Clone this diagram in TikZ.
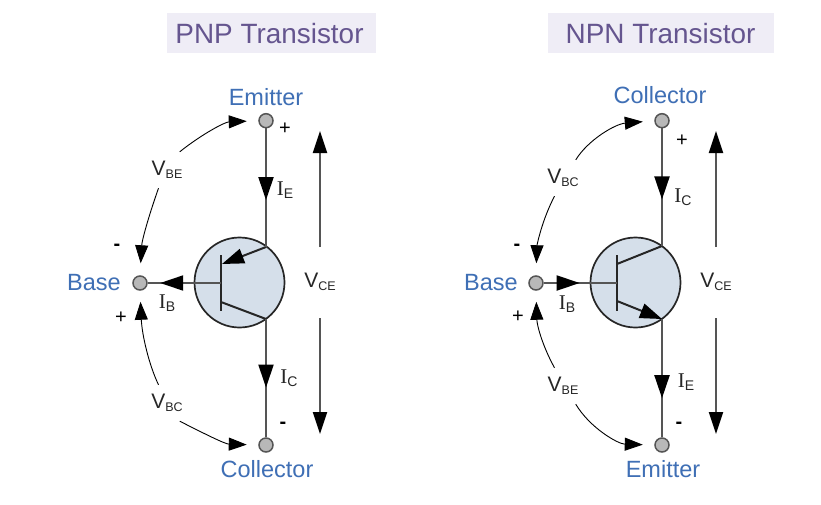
\documentclass[tikz,border=0pt]{standalone}
\usepackage{fontspec}
\setmainfont{Liberation Sans}
\newfontfamily\serifI{Liberation Serif}
\usetikzlibrary{arrows.meta,decorations.markings}
\definecolor{wirecol}{HTML}{555555}
\definecolor{dotfill}{HTML}{B8B8B8}
\definecolor{bodyfill}{HTML}{D5DFEA}
\definecolor{labelblue}{HTML}{3F6FB5}
\definecolor{titlebg}{HTML}{EFEDF6}
\definecolor{titlefg}{HTML}{65558F}
\newcommand{\volt}[1]{V\raisebox{-2.5pt}{\fontsize{12.5}{12.5}\selectfont #1}}
\newcommand{\curr}[1]{{\serifI\fontsize{21}{21}\selectfont I}\raisebox{-2.5pt}{\fontsize{14}{14}\selectfont #1}}
\tikzset{
  termdot/.style={circle,draw=wirecol,fill=dotfill,line width=1.5pt,minimum size=14pt,inner sep=0pt},
  termlabel/.style={text=labelblue,font=\fontsize{23.5}{24}\selectfont,inner sep=0pt},
  titlebox/.style={fill=titlebg,text=titlefg,font=\fontsize{27.9}{28}\selectfont,inner sep=0pt,minimum height=40pt,text height=20pt,text depth=0pt},
  valuelabel/.style={font=\fontsize{21}{21}\selectfont,text=black!85,inner sep=0pt},
  vlabel/.style={valuelabel,minimum width=30pt,minimum height=36pt},
  signlabel/.style={font=\fontsize{20}{20}\selectfont,inner sep=0pt},
  minuslabel/.style={font=\fontsize{20}{20}\bfseries\selectfont,inner sep=0pt},
  tbody/.style={circle,draw=black!85,fill=bodyfill,line width=1.7pt,minimum size=90pt,inner sep=0pt},
  wire/.style={draw=wirecol,line width=2pt},
  inner line/.style={draw=black!85,line width=2pt},
  midtip/.style={postaction=decorate,decoration={markings,mark=at position #1 with {\arrow[black]{Triangle[length=23pt,width=15pt]}}}},
  endtip/.style={-{Triangle[length=22pt,width=14pt,black]},wire},
  emtip/.style={-{Triangle[length=22pt,width=15pt,black]},inner line},
  arcv/.style={-{Triangle[length=18pt,width=13pt]},draw=black,line width=0.9pt},
}
\begin{document}
\begin{tikzpicture}[x=1pt,y=-1pt]
\useasboundingbox[fill=white] (0,0) rectangle (821,504);
% ---------- PNP
\node[titlebox,minimum width=209pt] (t1) at (271.5,33) {\hspace*{-4pt}PNP Transistor};
\node[tbody] (q1) at (239.5,282.5) {};
\node[termdot] (e1) at (266,120.7) {};
\node[termdot] (c1) at (266,445) {};
\node[termdot] (b1) at (140,283) {};
\node[termlabel] (le1) at (266,97) {Emitter};
\node[termlabel] (lc1) at (267,469) {Collector};
\node[termlabel] (lb1) at (94,283) {Base};
\coordinate (bt1) at (221,255);
\coordinate (bb1) at (221,311);
\coordinate (bm1) at (221,283);
\coordinate (je1) at (266,247);
\coordinate (ie1) at (222,264);
\coordinate (jc1) at (266,319);
\coordinate (ic1) at (221,302);
\draw[inner line] (bt1) -- (bb1);
\draw[inner line] (ic1) -- (jc1);
\draw[emtip] (je1) -- (ie1);
\draw[wire,midtip=0.604] (e1) -- (je1);
\draw[wire,midtip=0.58] (jc1) -- (c1);
\draw[wire,midtip=0.83] (bm1) -- (b1);
\node[valuelabel] (ie1l) at (285,190) {\curr{E}};
\node[valuelabel] (ic1l) at (289,378) {\curr{C}};
\node[valuelabel] (ib1l) at (167,303) {\curr{B}};
\node[valuelabel] (vce1) at (320,282) {\volt{CE}};
\node[vlabel] (vbe1) at (167,170) {\volt{BE}};
\node[vlabel] (vbc1) at (167,403) {\volt{BC}};
\coordinate (vu1) at (320,247);
\coordinate (vut1) at (320,131);
\coordinate (vd1) at (320,318);
\coordinate (vdt1) at (320,434);
\draw[endtip] (vu1) -- (vut1);
\draw[endtip] (vd1) -- (vdt1);
\draw[arcv,shorten >=11.5pt] (vbe1.55) .. controls (202,134) and (225,122) .. (e1.west);
\draw[arcv,shorten >=12pt] (vbe1.245) .. controls (149,215) and (142,240) .. (b1.north);
\draw[arcv,shorten >=11pt] (vbc1.115) .. controls (149,365) and (142,335) .. (b1.south);
\draw[arcv,shorten >=11.5pt] (vbc1.-55) .. controls (205,434) and (225,444) .. (c1.west);
\node[signlabel] (p1a) at (285,129) {+};
\node[minuslabel] (m1a) at (117,247) {-};
\node[signlabel] (p1b) at (121,318) {+};
\node[minuslabel] (m1b) at (283,425) {-};
% ---------- NPN
\node[titlebox,minimum width=226pt] (t2) at (661,33) {\hspace*{-1pt}NPN Transistor};
\node[tbody] (q2) at (635.5,282.5) {};
\node[termdot] (c2) at (662,120.7) {};
\node[termdot] (e2) at (662,445) {};
\node[termdot] (b2) at (536,283) {};
\node[termlabel] (lc2) at (660,95) {Collector};
\node[termlabel] (le2) at (663,469) {Emitter};
\node[termlabel] (lb2) at (491,283) {Base};
\coordinate (bt2) at (617,255);
\coordinate (bb2) at (617,311);
\coordinate (bm2) at (617,283);
\coordinate (jc2) at (662,246);
\coordinate (ic2) at (617,264);
\coordinate (je2) at (662,319);
\coordinate (ie2) at (617,301);
\draw[inner line] (bt2) -- (bb2);
\draw[inner line] (ic2) -- (jc2);
\draw[emtip] (ie2) -- (je2);
\draw[wire,midtip=0.604] (c2) -- (jc2);
\draw[wire,midtip=0.67] (je2) -- (e2);
\draw[wire,midtip=0.49] (b2) -- (bm2);
\node[valuelabel] (ic2l) at (683,197) {\curr{C}};
\node[valuelabel] (ie2l) at (686,382) {\curr{E}};
\node[valuelabel] (ib2l) at (567,304) {\curr{B}};
\node[valuelabel] (vce2) at (716,282) {\volt{CE}};
\node[vlabel] (vbc2) at (563,178) {\volt{BC}};
\node[vlabel] (vbe2) at (563,386) {\volt{BE}};
\coordinate (vu2) at (716,247);
\coordinate (vut2) at (716,131);
\coordinate (vd2) at (716,318);
\coordinate (vdt2) at (716,434);
\draw[endtip] (vu2) -- (vut2);
\draw[endtip] (vd2) -- (vdt2);
\draw[arcv,shorten >=11.5pt] (vbc2.55) .. controls (588,140) and (615,124) .. (c2.west);
\draw[arcv,shorten >=12pt] (vbc2.245) .. controls (542,220) and (537,245) .. (b2.north);
\draw[arcv,shorten >=11pt] (vbe2.115) .. controls (542,345) and (537,325) .. (b2.south);
\draw[arcv,shorten >=11.5pt] (vbe2.-55) .. controls (590,428) and (618,444) .. (e2.west);
\node[signlabel] (p2a) at (682,141) {+};
\node[minuslabel] (m2a) at (517,247) {-};
\node[signlabel] (p2b) at (518,317) {+};
\node[minuslabel] (m2b) at (679,425) {-};
\end{tikzpicture}
\end{document}
